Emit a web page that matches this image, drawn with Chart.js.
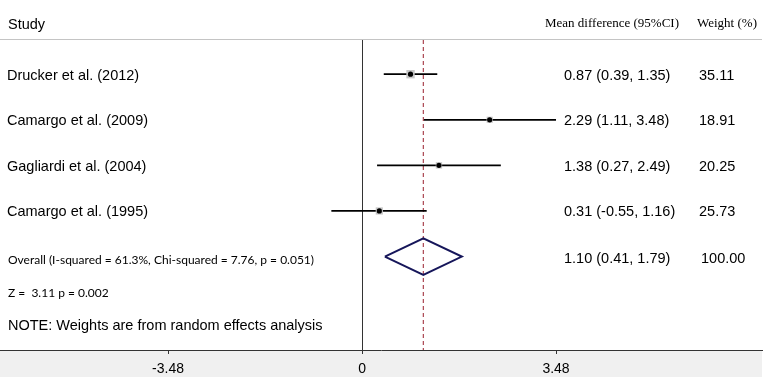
<!DOCTYPE html>
<html><head><meta charset="utf-8">
<script src="https://cdn.jsdelivr.net/npm/chart.js@4.4.0/dist/chart.umd.min.js"></script>
<style>html,body{margin:0;padding:0;background:#fff}#wrap{width:765px;height:380px;position:relative}</style>
</head><body><div id="wrap"><canvas id="c"></canvas></div>
<script>
const studies = ["Drucker et al. (2012)", "Camargo et al. (2009)", "Gagliardi et al. (2004)", "Camargo et al. (1995)"];
const estimates = [0.87, 2.29, 1.38, 0.31];
const lowerCI = [0.39, 1.11, 0.27, -0.55];
const upperCI = [1.35, 3.48, 2.49, 1.16];
const weights = [35.11, 18.91, 20.25, 25.73];
const overallEstimate = 1.10;
const overallLower = 0.41;
const overallUpper = 1.79;
const overallWeight = 100.00;
const overallLabel = "Overall (I-squared = 61.3%, Chi-squared = 7.76, p = 0.051)";
const zLabel = "Z =  3.11 p = 0.002";
const noteLabel = "NOTE: Weights are from random effects analysis";
const xTicks = [-3.48, 0, 3.48];
const headers = ["Study", "Mean difference (95%CI)", "Weight (%)"];

const Y_MIN = -0.75, Y_MAX = 6.05;
const overallRow = studies.length;
const fmt = v => v.toFixed(2);
const ciText = (e, l, h) => fmt(e) + " (" + fmt(l) + ", " + fmt(h) + ")";
const SANS = '"Liberation Sans", Arial, sans-serif';

const datasets = [];
studies.forEach((s, i) => {
  datasets.push({
    label: s + " CI",
    data: [{x: lowerCI[i], y: i}, {x: upperCI[i], y: i}],
    showLine: true, borderColor: '#000', borderWidth: 1.8, pointRadius: 0, order: 4
  });
});
datasets.push({
  label: 'weights',
  data: estimates.map((e, i) => ({x: e, y: i})),
  pointStyle: 'rect',
  pointRadius: weights.map(w => Math.sqrt(w) * 1.0),
  backgroundColor: '#c6c6c6', borderWidth: 0, order: 3
});
datasets.push({
  label: 'estimates',
  data: estimates.map((e, i) => ({x: e, y: i})),
  pointStyle: 'circle', pointRadius: 2.6,
  backgroundColor: '#000', borderWidth: 0, order: 1
});
datasets.push({
  label: 'overall',
  data: [
    {x: overallLower, y: overallRow},
    {x: overallEstimate, y: overallRow - 0.4},
    {x: overallUpper, y: overallRow},
    {x: overallEstimate, y: overallRow + 0.4},
    {x: overallLower, y: overallRow}
  ],
  showLine: true, borderColor: '#16165a', borderWidth: 2, pointRadius: 0, fill: false, order: 2
});
datasets.push({
  label: 'overall line',
  data: [{x: overallEstimate, y: Y_MIN}, {x: overallEstimate, y: Y_MAX}],
  showLine: true, borderColor: '#aa4450', borderWidth: 1.2, borderDash: [4, 3], pointRadius: 0, order: 5
});

const textPlugin = {
  id: 'forestText',
  beforeDraw(chart) {
    const {ctx, chartArea} = chart;
    ctx.save();
    ctx.fillStyle = '#fff';
    ctx.fillRect(0, 0, chart.width, chart.height);
    ctx.fillStyle = '#f0f0f0';
    ctx.fillRect(0, chartArea.bottom + 1, chartArea.right, 26);
    ctx.restore();
  },
  afterDraw(chart) {
    const {ctx, chartArea} = chart;
    const ys = chart.scales.y;
    ctx.save();
    ctx.strokeStyle = '#c4c4c4';
    ctx.lineWidth = 1.2;
    ctx.beginPath();
    ctx.moveTo(0, chartArea.top - 0.5);
    ctx.lineTo(chartArea.right, chartArea.top - 0.5);
    ctx.stroke();

    ctx.fillStyle = '#000';
    ctx.textBaseline = 'middle';
    ctx.textAlign = 'left';
    ctx.font = '14.5px ' + SANS;
    ctx.fillText(headers[0], 8, chartArea.top - 15);
    ctx.font = '13px "Liberation Serif", "Times New Roman", serif';
    ctx.fillText(headers[1], 545, chartArea.top - 16);
    ctx.fillText(headers[2], 697, chartArea.top - 16);

    ctx.font = '14.5px ' + SANS;
    studies.forEach((s, i) => {
      const y = ys.getPixelForValue(i) + 1.5;
      ctx.fillText(s, 7, y);
      ctx.fillText(ciText(estimates[i], lowerCI[i], upperCI[i]), 564, y);
      ctx.fillText(fmt(weights[i]), 699, y);
    });
    const yo = ys.getPixelForValue(overallRow);
    ctx.fillText(ciText(overallEstimate, overallLower, overallUpper), 564, yo + 2);
    ctx.fillText(fmt(overallWeight), 701, yo + 2);
    ctx.fillText(noteLabel, 8, ys.getPixelForValue(overallRow + 1.52));

    ctx.font = '12px Lato, "Open Sans", sans-serif';
    ctx.fillText(overallLabel, 8, yo + 4);
    ctx.fillText(zLabel, 8, ys.getPixelForValue(overallRow + 0.8));
    ctx.restore();
  }
};

new Chart(document.getElementById('c'), {
  type: 'scatter',
  data: {datasets},
  options: {
    responsive: true,
    maintainAspectRatio: false,
    animation: false,
    layout: {autoPadding: false, padding: {top: 40, right: 3, left: 0, bottom: 0}},
    plugins: {legend: {display: false}, tooltip: {enabled: false}},
    scales: {
      x: {
        type: 'linear', position: 'bottom',
        min: -6.494, max: 7.175,
        afterBuildTicks: s => { s.ticks = xTicks.map(v => ({value: v})); },
        afterFit: s => { s.height = 30; },
        ticks: {
          autoSkip: false, maxRotation: 0, padding: 7, color: '#000',
          font: {family: SANS, size: 14},
          callback: v => (v === 0 ? '0' : v.toFixed(2))
        },
        grid: {
          drawOnChartArea: true,
          color: c => (c.tick && c.tick.value === 0 ? '#333' : 'rgba(0,0,0,0)'),
          tickColor: '#333', tickLength: 4, lineWidth: 1
        },
        border: {display: true, color: '#333', width: 1}
      },
      y: {type: 'linear', display: false, reverse: true, min: Y_MIN, max: Y_MAX}
    }
  },
  plugins: [textPlugin]
});
</script>
</body></html>
